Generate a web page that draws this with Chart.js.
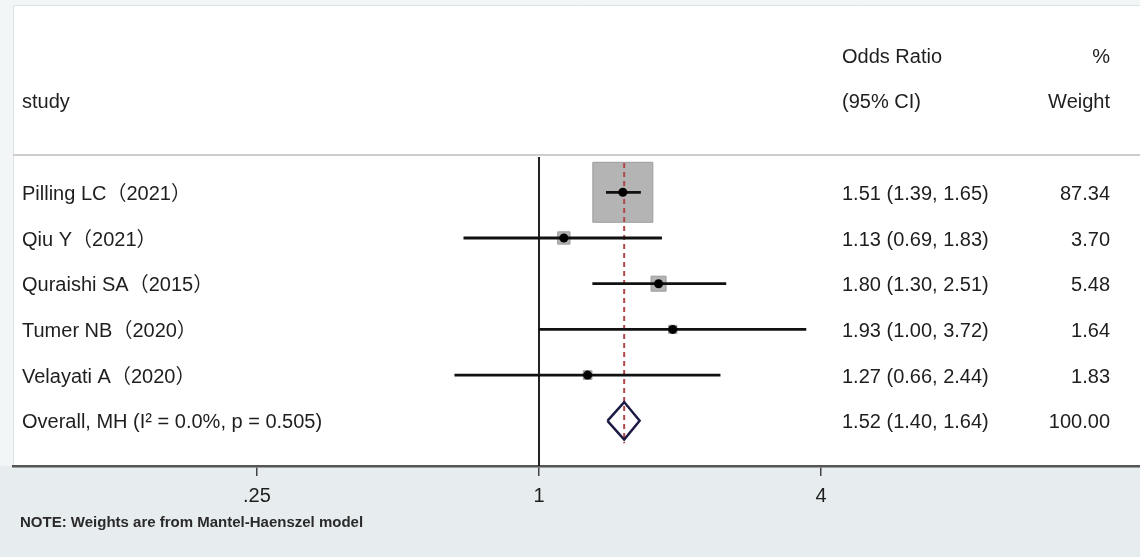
<!DOCTYPE html>
<html>
<head>
<meta charset="utf-8">
<title>Forest plot</title>
<script src="https://cdn.jsdelivr.net/npm/chart.js@4.4.1/dist/chart.umd.min.js"></script>
<style>
  html, body { margin:0; padding:0; background:#f3f6f6; }
  #wrap { width:1140px; height:557px; position:relative; }
</style>
</head>
<body>
<div id="wrap"><canvas id="forest"></canvas></div>
<script>
// Datos del forest plot (OR, IC 95%, peso MH)
const studies   = ['Pilling LC（2021）', 'Qiu Y（2021）', 'Quraishi SA（2015）', 'Tumer NB（2020）', 'Velayati A（2020）'];
const oddsRatio = [1.51, 1.13, 1.80, 1.93, 1.27];
const ciLow     = [1.39, 0.69, 1.30, 1.00, 0.66];
const ciHigh    = [1.65, 1.83, 2.51, 3.72, 2.44];
const weights   = [87.34, 3.70, 5.48, 1.64, 1.83];

const overallLabel  = 'Overall, MH (I² = 0.0%, p = 0.505)';
const overallOR     = 1.52;
const overallLow    = 1.40;
const overallHigh   = 1.64;
const overallWeight = 100.00;

const xTicks      = [0.25, 1, 4];
const xTickLabels = ['.25', '1', '4'];
const noteText    = 'NOTE: Weights are from Mantel-Haenszel model';

(function(){
  const FONT = '"Liberation Sans", Arial, "Noto Sans CJK SC", sans-serif';
  const TXT = '#1e1e1e';
  const overallRow = studies.length;
  const diamondHalf = 0.41;   // media altura del rombo, en filas
  const maxBox = 60;          // lado (px) de la caja con mayor peso
  const maxW = Math.max(...weights);

  const fmt = v => v.toFixed(2);
  const ciText = (e,l,h) => `${fmt(e)} (${fmt(l)}, ${fmt(h)})`;

  // Un dataset por intervalo de confianza
  const ciSets = studies.map((s,i) => ({
    data:[{x:ciLow[i], y:i},{x:ciHigh[i], y:i}],
    showLine:true, pointRadius:0, borderColor:'#111', borderWidth:2.8, order:2
  }));

  const datasets = [
    // cajas grises (área proporcional al peso)
    {
      data: oddsRatio.map((v,i)=>({x:v, y:i})),
      pointStyle:'rect',
      pointRadius: weights.map(w => maxBox*Math.sqrt(w/maxW)/(2*Math.SQRT1_2)),
      backgroundColor:'#b4b4b4', borderColor:'#9c9c9c', borderWidth:1, order:6
    },
    // línea discontinua del efecto global
    {
      data:[{x:overallOR, y:-0.64},{x:overallOR, y:overallRow+0.49}],
      showLine:true, pointRadius:0, borderColor:'#b0474a', borderWidth:2,
      borderDash:[5,4], order:5
    },
    // línea de no efecto (OR = 1)
    {
      data:[{x:1, y:-0.77},{x:1, y:6.2}],
      showLine:true, pointRadius:0, borderColor:'#222', borderWidth:2, order:4
    },
    ...ciSets,
    // estimaciones puntuales
    {
      data: oddsRatio.map((v,i)=>({x:v, y:i})),
      pointStyle:'circle', pointRadius:4.5, backgroundColor:'#000', borderColor:'#000',
      borderWidth:0, order:1
    },
    // rombo del efecto global
    {
      data:[
        {x:overallLow, y:overallRow}, {x:overallOR, y:overallRow-diamondHalf},
        {x:overallHigh, y:overallRow}, {x:overallOR, y:overallRow+diamondHalf},
        {x:overallLow, y:overallRow}
      ],
      showLine:true, pointRadius:0, borderColor:'#1b1b45', borderWidth:2.5,
      borderJoinStyle:'miter', order:1
    }
  ];

  const background = {
    id:'background',
    beforeDraw(chart){
      const {ctx, chartArea:a, width, height} = chart;
      ctx.save();
      ctx.fillStyle = '#f3f6f6';
      ctx.fillRect(0,0,width,height);
      ctx.fillStyle = '#ffffff';
      ctx.fillRect(a.left, a.top, a.right-a.left, a.bottom-a.top);
      ctx.fillStyle = '#e7edef';
      ctx.fillRect(0, a.bottom, width, height-a.bottom);
      ctx.strokeStyle = '#dbe3e4';
      ctx.lineWidth = 1;
      ctx.beginPath();
      ctx.moveTo(a.left+0.5, a.bottom); ctx.lineTo(a.left+0.5, a.top+0.5); ctx.lineTo(a.right, a.top+0.5);
      ctx.stroke();
      // separador bajo el encabezado
      const ySep = chart.scales.y.getPixelForValue(-0.816);
      ctx.strokeStyle = '#cdcdcd';
      ctx.lineWidth = 2;
      ctx.beginPath();
      ctx.moveTo(a.left, ySep); ctx.lineTo(a.right, ySep);
      ctx.stroke();
      ctx.restore();
    }
  };

  const columns = {
    id:'columns',
    afterDraw(chart){
      const {ctx} = chart;
      const y = chart.scales.y;
      const xStudy = 22, xOR = 842, xW = 1110;
      ctx.save();
      ctx.fillStyle = TXT;
      ctx.font = `20px ${FONT}`;
      ctx.textBaseline = 'middle';
      const put = (t, x, row, align) => {
        ctx.textAlign = align;
        ctx.fillText(t, x, y.getPixelForValue(row)+2);
      };
      // encabezado
      put('Odds Ratio', xOR, -3, 'left');
      put('%', xW, -3, 'right');
      put('study', xStudy, -2, 'left');
      put('(95% CI)', xOR, -2, 'left');
      put('Weight', xW, -2, 'right');
      // filas
      studies.forEach((s,i) => {
        put(s, xStudy, i, 'left');
        put(ciText(oddsRatio[i], ciLow[i], ciHigh[i]), xOR, i, 'left');
        put(fmt(weights[i]), xW, i, 'right');
      });
      put(overallLabel, xStudy, overallRow, 'left');
      put(ciText(overallOR, overallLow, overallHigh), xOR, overallRow, 'left');
      put(fmt(overallWeight), xW, overallRow, 'right');
      // nota
      ctx.font = `bold 15px ${FONT}`;
      ctx.fillStyle = '#2a2a2a';
      ctx.textAlign = 'left';
      ctx.fillText(noteText, 20, 523);
      ctx.restore();
    }
  };

  Chart.defaults.font.family = FONT;
  Chart.defaults.color = TXT;

  new Chart(document.getElementById('forest').getContext('2d'), {
    type:'scatter',
    data:{ datasets },
    options:{
      responsive:true, maintainAspectRatio:false,
      animation:false, events:[],
      layout:{ autoPadding:false, padding:{ left:13, right:0, top:5, bottom:41 } },
      plugins:{ legend:{display:false}, tooltip:{enabled:false} },
      scales:{
        x:{
          type:'logarithmic',
          min: Math.pow(2, -3.730), max: Math.pow(2, 4.262),
          afterBuildTicks: s => { s.ticks = xTicks.map(v => ({value:v})); },
          ticks:{
            autoSkip:false, maxRotation:0, padding:8,
            font:{size:20}, color:TXT,
            callback: (v) => xTickLabels[xTicks.indexOf(v)] ?? ''
          },
          grid:{ drawOnChartArea:false, drawTicks:true, tickLength:10, color:'#444', lineWidth:1.5 },
          border:{ display:true, color:'#555', width:2.5 }
        },
        y:{
          type:'linear', display:false, reverse:true,
          min:-4.098, max:5.989
        }
      }
    },
    plugins:[background, columns]
  });
})();
</script>
</body>
</html>
